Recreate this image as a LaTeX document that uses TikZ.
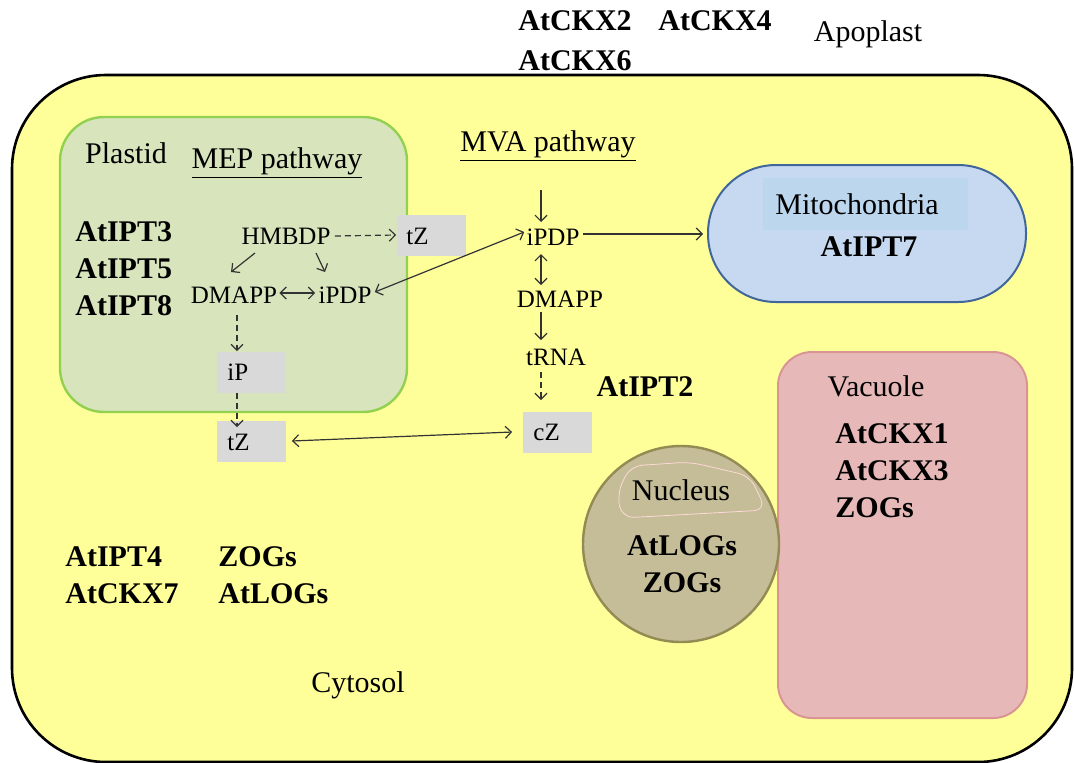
\documentclass[tikz,border=0pt]{standalone}
\usepackage{fontspec}
\setmainfont{Liberation Serif}
\usetikzlibrary{positioning}
\usetikzlibrary{arrows.meta}
\definecolor{cell_fill}{HTML}{FFFF99}
\definecolor{plastid_fill}{HTML}{D8E4BC}
\definecolor{plastid_line}{HTML}{92D050}
\definecolor{mito_fill}{HTML}{C6D9F1}
\definecolor{mito_label}{HTML}{BCD6EE}
\definecolor{mito_line}{HTML}{41669A}
\definecolor{vac_fill}{HTML}{E6B9B8}
\definecolor{vac_line}{HTML}{D99594}
\definecolor{nuc_fill}{HTML}{C4BD97}
\definecolor{nuc_line}{HTML}{948A54}
\definecolor{box_fill}{HTML}{D9D9D9}
\tikzset{
        textnode/.style={inner sep=0pt},
        % Compartment names
        node_label/.style={textnode, font=\fontsize{15}{18}\selectfont},
        % Gene names
        node_gene/.style={textnode, font=\bfseries\fontsize{15}{18.5}\selectfont, align=left},
        % Metabolites
        node_metab/.style={textnode, font=\fontsize{12.5}{15}\selectfont},
        % Grey metabolite boxes
        node_box/.style={fill=box_fill, minimum width=34.5pt, minimum height=20.5pt, inner sep=0pt},
        % Arrows
        flow/.style={-{Straight Barb[length=3pt, width=6pt]}, draw=black!80, line width=0.6pt},
        flow_both/.style={{Straight Barb[length=3pt, width=6pt]}-{Straight Barb[length=3pt, width=6pt]}, draw=black!80, line width=0.6pt},
        flow_dash/.style={flow, densely dashed}
}
\begin{document}
\begin{tikzpicture}[x=0.5pt, y=-0.5pt]
    \useasboundingbox (0,0) rectangle (1074,762);
    \begin{scope}
        \clip (0,0) rectangle (1074,762);
        % Cell
        \draw[fill=cell_fill, line width=1.3pt, rounded corners=47pt] (12,75) rectangle (1072,762);
    \end{scope}
    % Compartments
    \draw[fill=plastid_fill, draw=plastid_line, line width=1.2pt, rounded corners=22pt] (60,117) rectangle (407,412);
    \draw[fill=mito_fill, draw=mito_line, line width=1pt, rounded corners=34pt] (708,165) rectangle (1026,302);
    \fill[mito_label] (763,178) rectangle (968,230);
    \draw[fill=vac_fill, draw=vac_line, line width=1pt, rounded corners=17pt] (778,352) rectangle (1027,718);
    \draw[fill=nuc_fill, draw=nuc_line, line width=1.2pt] (681,544) circle (98);
    \draw[draw=pink!60, line width=0.4pt, rounded corners=6pt] (630,466) -- (690,462) -- (750,476) -- (766,510) -- (622,518) -- (617,494) -- cycle;

    % Apoplast
    \node[node_gene] (ckx2) at (575,21) {AtCKX2};
    \node[node_gene] (ckx4) at (715,21) {AtCKX4};
    \node[node_gene] (ckx6) at (575,61) {AtCKX6};
    \node[node_label] (apoplast) at (868,34) {Apoplast};

    % Plastid
    \node[node_label] (plastid) at (126,153) {Plastid};
    \node[node_label] (mep) at (277,163) {\underline{MEP pathway}};
    \node[node_gene, anchor=west] (ipt358) at (75,269) {AtIPT3\\AtIPT5\\AtIPT8};
    \node[node_metab] (hmbdp) at (286,236) {HMBDP};
    \node[node_metab] (dmapp_p) at (234,295) {DMAPP};
    \node[node_metab] (ipdp_p) at (345,295) {iPDP};
    \node[node_box] (tz_p) at (431,235) {};
    \node[node_metab, anchor=west] at (406,236) {tZ};
    \node[node_box] (ip) at (251,372) {};
    \node[node_metab, anchor=west] at (227,372) {iP};
    \node[node_box] (tz) at (251,441) {};
    \node[node_metab, anchor=west] at (227,442) {tZ};

    % MVA pathway
    \node[node_label] (mva) at (548,146) {\underline{MVA pathway}};
    \node[node_metab] (ipdp_c) at (553,237) {iPDP};
    \node[node_metab] (dmapp_c) at (560,299) {DMAPP};
    \node[node_metab] (trna) at (556,357) {tRNA};
    \node[node_gene] (ipt2) at (645,387) {AtIPT2};
    \node[node_box] (cz) at (557,432) {};
    \node[node_metab, anchor=west] at (533,432) {cZ};
    \coordinate (mva_in) at (541,190);

    % Mitochondria
    \node[node_label] (mito) at (857,204) {Mitochondria};
    \node[node_gene] (ipt7) at (869,247) {AtIPT7};

    % Vacuole
    \node[node_label] (vacuole) at (876,386) {Vacuole};
    \node[node_gene, anchor=west] (vac_genes) at (835,471) {AtCKX1\\AtCKX3\\ZOGs};

    % Nucleus
    \node[node_label] (nucleus) at (681,490) {Nucleus};
    \node[node_gene, align=center] (nuc_genes) at (682,564) {AtLOGs\\ZOGs};

    % Cytosol
    \node[node_gene, anchor=west] (cyt_a) at (65,575) {AtIPT4\\AtCKX7};
    \node[node_gene, anchor=west] (cyt_b) at (218,575) {ZOGs\\AtLOGs};
    \node[node_label] (cytosol) at (358,685) {Cytosol};

    % Arrows in the plastid
    \draw[flow_dash] (hmbdp.east) ++(4,0) -- (tz_p.west);
    \draw[flow] (255,253) -- (231,272);
    \draw[flow] (316,253) -- (325,272);
    \draw[flow_both] ([shift={(2,-2)}]dmapp_p.east) -- ([shift={(-3,-2)}]ipdp_p.west);
    \draw[flow_dash] (237,315) -- (ip.north -| 237,0);
    \draw[flow_dash] (ip.south -| 237,0) -- (237,427);
    % Exchange between plastid and cytosol
    \draw[flow_both] ([shift={(3,-3)}]ipdp_p.east) -- ([shift={(-2,-5)}]ipdp_c.west);
    \draw[flow_both] ([xshift=3pt]tz.east) -- ([xshift=-5pt]cz.west);
    % Arrows of the MVA pathway
    \draw[flow] (mva_in) -- (541,222);
    \draw[flow] ([shift={(3,-3)}]ipdp_c.east) -- (703,234);
    \draw[flow_both] (541,254) -- (541,285);
    \draw[flow] (541,312) -- (541,340);
    \draw[flow_dash] (541,372) -- (541,400);
\end{tikzpicture}
\end{document}
